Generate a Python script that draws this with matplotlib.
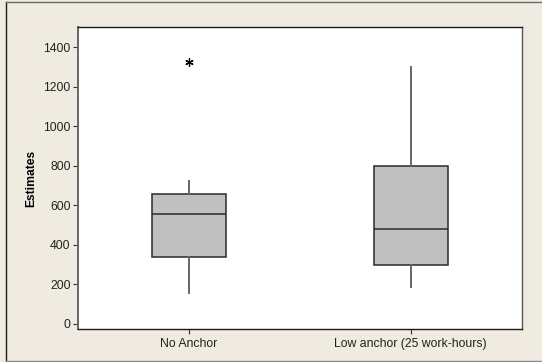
import matplotlib
matplotlib.use("Agg")
import matplotlib.pyplot as plt
from matplotlib.lines import Line2D

# Group labels and five-number summaries of the estimates
groups = ["No Anchor", "Low anchor (25 work-hours)"]
whisker_low = [156, 189]
q1 = [338, 299]
median = [558, 480]
q3 = [658, 801]
whisker_high = [725, 1302]
outliers = [[1327], []]

y_ticks = [0, 200, 400, 600, 800, 1000, 1200, 1400]

plt.rcParams["font.family"] = ["Liberation Sans", "DejaVu Sans"]

bg = "#EFEBE0"
W, H = 542, 362
fig = plt.figure(figsize=(W / 100, H / 100), dpi=100, facecolor=bg)

# Window frame: dark left edge, grey top and bottom edges
def fx(px):
    return px / W

def fy(py):
    return 1 - py / H

fig.lines.append(Line2D([fx(6), fx(6)], [fy(2), fy(360.5)], transform=fig.transFigure,
                        color="#1a1a1a", linewidth=1.0))
fig.lines.append(Line2D([fx(6), 1.0], [fy(2), fy(2)], transform=fig.transFigure,
                        color="#6a6a6a", linewidth=1.0))
fig.lines.append(Line2D([fx(6), 1.0], [fy(360.5), fy(360.5)], transform=fig.transFigure,
                        color="#8a8a8a", linewidth=1.0))

left, right, top, bottom = 77.5, 521.7, 27.3, 329.3
ax = fig.add_axes([left / W, 1 - bottom / H, (right - left) / W, (bottom - top) / H])
ax.set_facecolor("white")

stats = []
for i, g in enumerate(groups):
    stats.append(dict(label=g, whislo=whisker_low[i], q1=q1[i], med=median[i],
                      q3=q3[i], whishi=whisker_high[i], fliers=outliers[i]))

ax.bxp(stats, positions=[1, 2], widths=0.333, patch_artist=True, showcaps=False,
       boxprops=dict(facecolor="#C0C0C0", edgecolor="#2a2a2a", linewidth=1.1),
       medianprops=dict(color="#2a2a2a", linewidth=1.1),
       whiskerprops=dict(color="#666666", linewidth=1.4),
       flierprops=dict(marker=(6, 2, 0), markersize=6, markeredgecolor="black",
                       markeredgewidth=0.9, linestyle="none"))

ax.set_xlim(0.5, 2.5)
ax.set_ylim(-27, 1501)
ax.set_yticks(y_ticks)
ax.set_yticklabels([str(v) for v in y_ticks])
ax.set_xticks([1, 2])
ax.set_xticklabels(groups)
ax.tick_params(axis="both", direction="out", length=3.5, width=0.8, color="#333333",
               labelsize=8.8, labelcolor="#222222", pad=1.5)
ax.tick_params(axis="x", pad=2.5)
ax.set_ylabel("Estimates", fontsize=8.7, fontweight="bold", labelpad=4)

for side in ["top", "right", "bottom"]:
    ax.spines[side].set_color("#1a1a1a")
    ax.spines[side].set_linewidth(1.0)
ax.spines["right"].set_color("#555555")
ax.spines["left"].set_color("#666666")
ax.spines["left"].set_linewidth(1.4)

fig.savefig("out.png", dpi=100, facecolor=bg)
